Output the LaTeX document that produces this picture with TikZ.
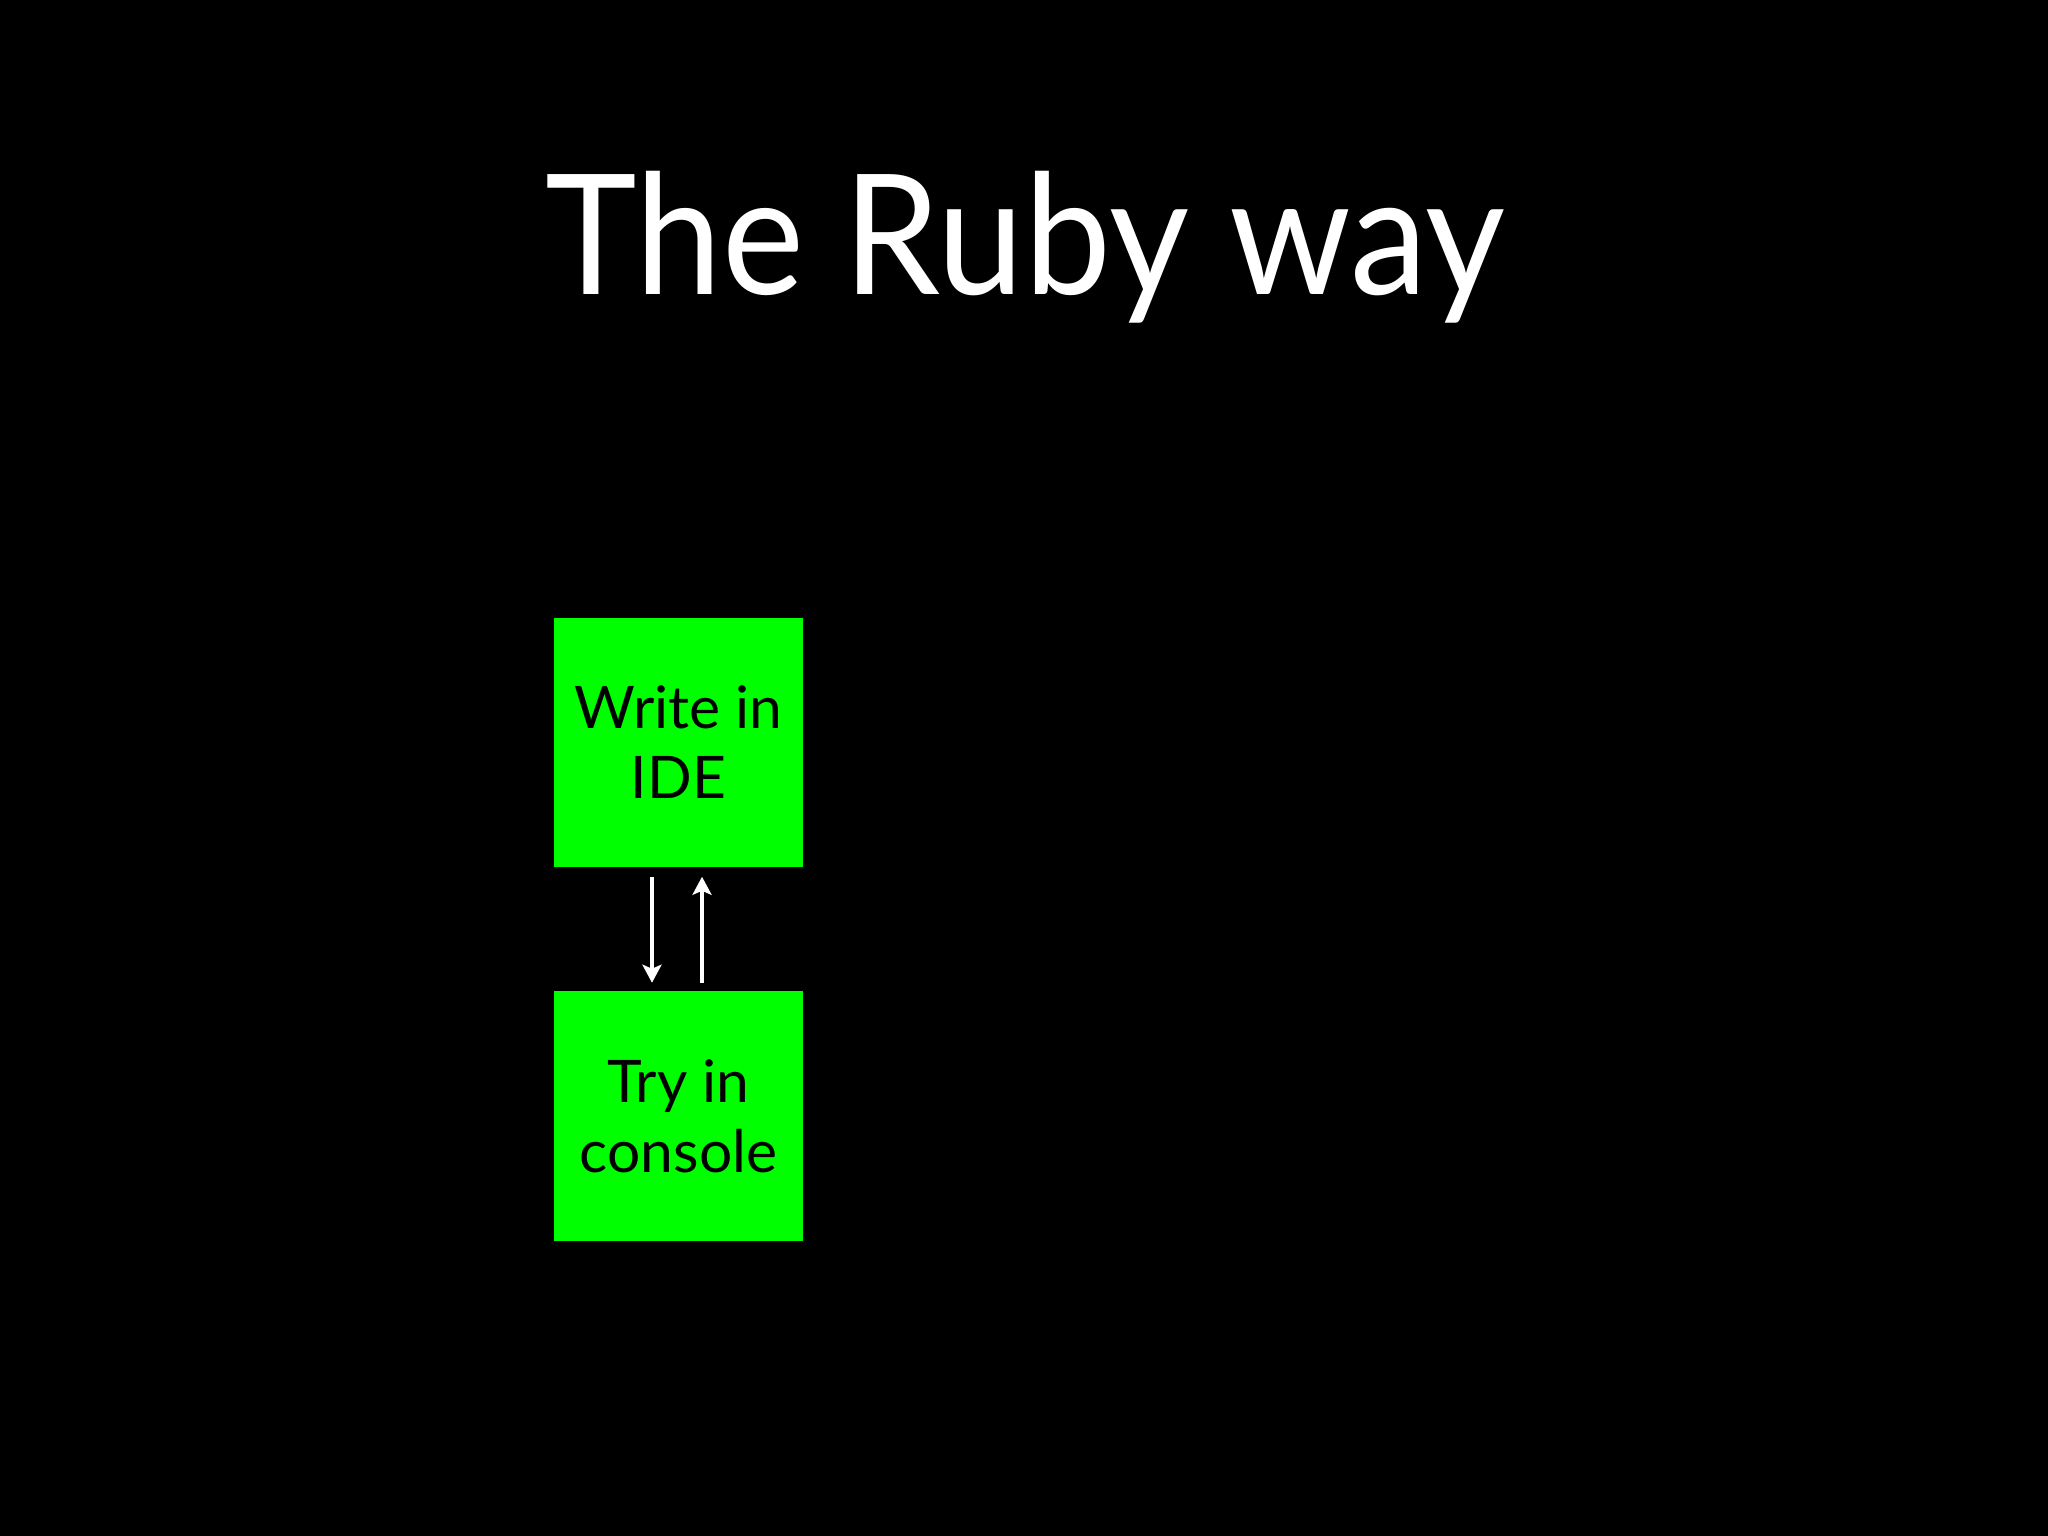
\documentclass[tikz,border=0pt]{standalone}
\usepackage{fontspec}
\usepackage{graphicx}
\setmainfont{Lato}
\usetikzlibrary{arrows.meta}
\definecolor{boxgreen}{HTML}{00FF00}
\begin{document}
\begin{tikzpicture}[x=0.01cm,y=-0.01cm,
  box/.style={fill=boxgreen,draw=none,minimum width=2.49cm,minimum height=2.49cm,inner sep=0pt,align=center,font=\fontsize{16.7}{19.9}\selectfont,text=black},
  arr/.style={draw=white,line width=1.2pt,-{Stealth[width=0.19cm,length=0.18cm,inset=0.04cm]}}]
\fill[black] (0,0) rectangle (2048,1536);
\useasboundingbox (0,0) rectangle (2048,1536);
\node[text=white,anchor=base,font=\fontsize{47.6}{50}\selectfont,inner sep=0pt] (title) at (1025,294) {\scalebox{0.927}[1]{The Ruby way}};
\node[box] (w) at (678.5,742.5) {Write in\\IDE};
\node[box] (t) at (678.5,1116) {Try in\\console};
\draw[arr] ([xshift=-0.265cm,yshift=-0.09cm]w.south) -- ([xshift=-0.265cm,yshift=0.08cm]t.north);
\draw[arr] ([xshift=0.235cm,yshift=0.08cm]t.north) -- ([xshift=0.235cm,yshift=-0.09cm]w.south);
\end{tikzpicture}
\end{document}
